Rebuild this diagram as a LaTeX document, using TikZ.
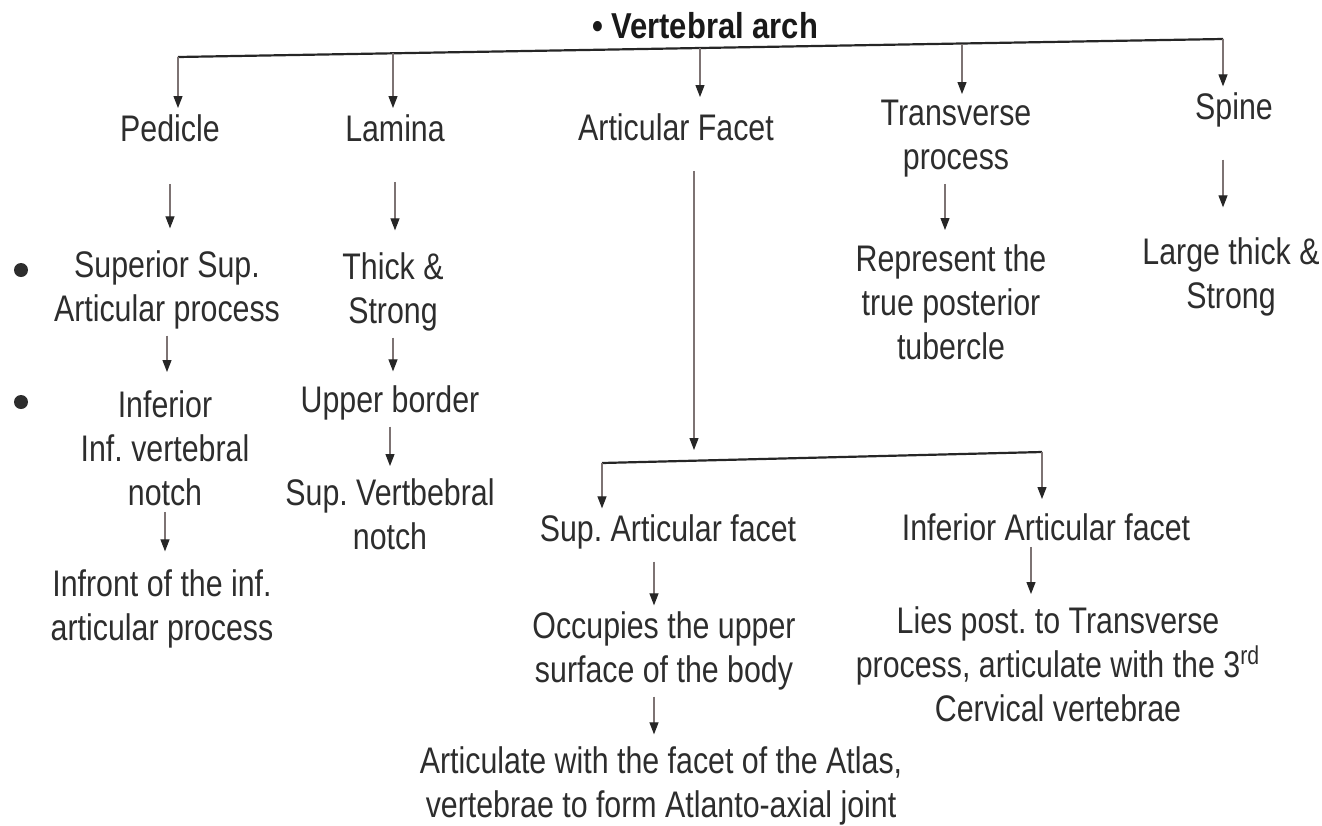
\documentclass[tikz,border=0pt]{standalone}
\usepackage{fontspec}
\setmainfont{Liberation Sans}[FakeStretch=0.82]
\newfontfamily\titlefont{Liberation Sans}[FakeStretch=0.86]
\usepackage{tikz}
\usetikzlibrary{arrows.meta,positioning,calc}
\definecolor{inkcolor}{RGB}{45,45,45}
\definecolor{stemcolor}{RGB}{125,115,115}
\frenchspacing

\begin{document}
\begin{tikzpicture}[
        x=0.5pt, y=-0.5pt,
        txt/.style={text=inkcolor, align=center, inner sep=3pt, font=\fontsize{18.5}{22}\selectfont},
        heading/.style={text=black!90, inner sep=2pt, font=\titlefont\bfseries\fontsize{18}{21}\selectfont},
        dot/.style={circle, fill=inkcolor, inner sep=0pt, minimum size=7pt},
        bar/.style={line width=1.1pt, draw=black!85},
        stem/.style={line width=0.6pt, draw=stemcolor, -{Triangle[length=6pt, width=4.5pt, color=black!85]}}
    ]
        \useasboundingbox (0,0) rectangle (1322,825);

        \node[heading] (arch) at (705,26) {• Vertebral arch};
        \node[txt] (pedicle) at (170,128) {Pedicle};
        \node[txt] (lamina) at (395,128) {Lamina};
        \node[txt] (facet) at (676,127) {Articular Facet};
        \node[txt] (transverse) at (956,139) {Transverse\\process};
        \node[txt] (spine) at (1234,110) {Spine};

        \node[txt] (supproc) at (167,290) {Superior Sup.\\Articular process};
        \node[txt] (inferior) at (165,448) {Inferior\\Inf. vertebral\\notch};
        \node[txt] (infront) at (162,609) {Infront of the inf.\\articular process};
        \node[dot] (dot1) at (21,270) {};
        \node[dot] (dot2) at (21,402) {};

        \node[txt] (thick) at (393,292) {Thick \&\\Strong};
        \node[txt] (upper) at (390,403) {Upper border};
        \node[txt] (supnotch) at (390,514) {Sup. Vertbebral\\notch};

        \node[txt] (represent) at (951,302) {Represent the\\true posterior\\tubercle};
        \node[txt] (large) at (1231,277) {Large thick \&\\Strong};

        \node[txt] (supfacet) at (668,532) {Sup. Articular facet};
        \node[txt] (inffacet) at (1046,527) {Inferior Articular facet};
        \node[txt] (occupies) at (664,651) {Occupies the upper\\surface of the body};
        \node[txt] (atlas) at (661,786) {Articulate with the facet of the Atlas,\\vertebrae to form Atlanto-axial joint};
        \node[txt] (lies) at (1058,664) {Lies post. to Transverse\\process, articulate with the 3\textsuperscript{rd}\\Cervical vertebrae};

        \coordinate (j1) at (178,57);
        \coordinate (j2) at (393,53);
        \coordinate (j3) at (700,48);
        \coordinate (j4) at (962,44);
        \coordinate (j5) at (1223,39);
        \coordinate (k0) at (694,450);
        \coordinate (k1) at (602,463);
        \coordinate (k2) at (1042,452);
        \coordinate (c1) at (945,210);
        \coordinate (c2) at (654,640);
        \coordinate (c3) at (1031,570);

        \draw[bar] (j1) -- (j5);
        \draw[stem] (j1) -- (j1 |- pedicle.north);
        \draw[stem] (j2) -- (j2 |- lamina.north);
        \draw[stem, shorten >=5pt] (j3) -- (j3 |- facet.north);
        \draw[stem] (j4) -- (j4 |- transverse.north);
        \draw[stem] (j5) -- (j5 |- spine.north);

        \draw[stem, shorten <=18pt, shorten >=8pt] (pedicle.south) -- (pedicle.south |- supproc.north);
        \draw[stem, shorten >=6pt] (supproc.south) -- (supproc.south |- inferior.north);
        \draw[stem, shorten >=6pt] (inferior.south) -- (inferior.south |- infront.north);
        \draw[stem, shorten <=17pt, shorten >=8pt] (lamina.south) -- (lamina.south |- thick.north);
        \draw[stem, shorten >=4pt] (thick.south) -- (thick.south |- upper.north);
        \draw[stem, shorten >=3pt] (upper.south) -- (upper.south |- supnotch.north);
        \draw[stem, shorten >=4pt] (transverse.south -| c1) -- (represent.north -| c1);
        \draw[stem, shorten <=13pt, shorten >=12pt] (spine.south -| j5) -- (large.north -| j5);

        \draw[stem, shorten <=12pt] (facet.south -| k0) -- (k0);
        \draw[bar] (k1) -- (k2);
        \draw[stem] (k1) -- (k1 |- supfacet.north);
        \draw[stem, shorten >=4pt] (k2) -- (k2 |- inffacet.north);
        \draw[stem, shorten <=3pt] (supfacet.south -| c2) -- (occupies.north -| c2);
        \draw[stem, shorten >=3pt] (occupies.south -| c2) -- (atlas.north -| c2);
        \draw[stem, shorten >=3pt] (inffacet.south -| c3) -- (lies.north -| c3);
    \end{tikzpicture}
\end{document}
